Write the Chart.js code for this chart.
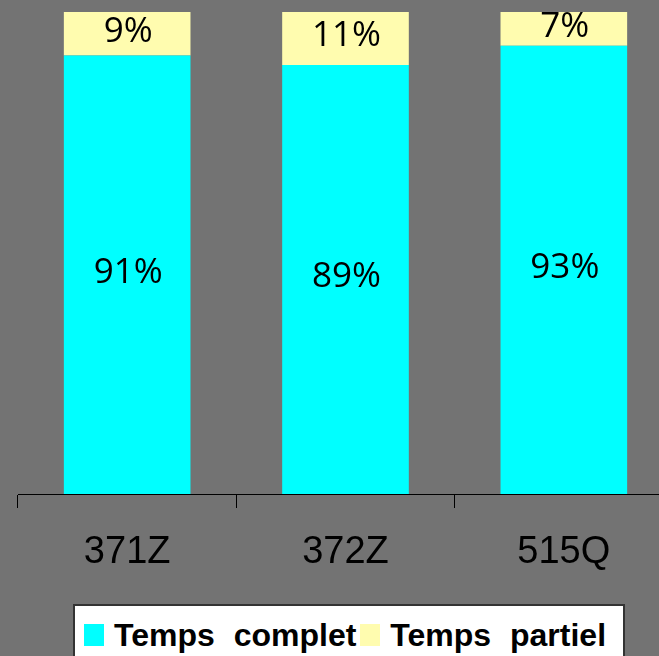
<!DOCTYPE html>
<html>
<head>
<meta charset="utf-8">
<script src="https://cdn.jsdelivr.net/npm/chart.js@4/dist/chart.umd.min.js"></script>
<style>
  html, body { margin: 0; padding: 0; background: #737373; overflow: hidden; }
  #wrap { position: absolute; left: 0; top: 0; width: 700px; height: 656px; }
  #legend {
    position: absolute; left: 73px; top: 604px; width: 552px; height: 70px;
    box-sizing: border-box; background: #fff; border: 2px solid #333;
    display: flex; align-items: flex-start; padding: 13px 0 0 9px;
  }
  .sw { width: 20px; height: 22px; margin-top: 5px; margin-right: 10px; flex: none; }
  .lbl { font: bold 32px "Liberation Sans", Arial, sans-serif; line-height: 32px;
         word-spacing: 10px; margin-right: 4px; color: #000; white-space: nowrap; }
</style>
</head>
<body>
<div id="wrap">
  <canvas id="myChart" width="700" height="656"></canvas>
  <div id="legend"></div>
</div>
<script>
'use strict';

// categories + series (percent)
let categories = ['371Z', '372Z', '515Q'];
let tempsComplet = [91, 89, 93];
let tempsPartiel = [9, 11, 7];
let seriesNames = ['Temps complet', 'Temps partiel'];

// draws the % label in the middle of every bar piece
const barLabels = {
  id: 'barLabels',
  afterDatasetsDraw(chart) {
    let ctx = chart.ctx;
    ctx.save();
    ctx.font = '500 35px "Open Sans", sans-serif';
    ctx.fillStyle = '#000';
    ctx.textAlign = 'center';
    ctx.textBaseline = 'middle';
    chart.data.datasets.forEach((ds, i) => {
      let meta = chart.getDatasetMeta(i);
      meta.data.forEach((bar, j) => {
        let p = bar.getProps(['x', 'y', 'base'], true);
        ctx.fillText(ds.data[j] + '%', p.x + 1, (p.y + p.base) / 2 - 2);
      });
    });
    ctx.restore();
  }
};

const data = {
  labels: categories,
  datasets: [
    {
      label: seriesNames[0],
      data: tempsComplet,
      backgroundColor: '#00FFFF',
      borderWidth: 0
    },
    {
      label: seriesNames[1],
      data: tempsPartiel,
      backgroundColor: '#FFFCAF',
      borderWidth: 0
    }
  ]
};

const config = {
  type: 'bar',
  data: data,
  options: {
    responsive: false,
    animation: false,
    barPercentage: 0.58,
    categoryPercentage: 1,
    layout: { padding: { left: 18, right: 27, top: 12, bottom: 0 } },
    plugins: {
      legend: { display: false },
      tooltip: { enabled: false }
    },
    scales: {
      y: {
        display: false,
        stacked: true,
        min: 0,
        max: 100
      },
      x: {
        stacked: true,
        afterFit: (scale) => { scale.height = 162; },
        grid: {
          offset: true,
          drawOnChartArea: false,
          drawTicks: true,
          tickLength: 14,
          color: '#000'
        },
        border: { display: true, color: '#000', width: 1 },
        ticks: {
          color: '#000',
          padding: 22,
          font: { family: '"Liberation Sans", Arial, sans-serif', size: 38 }
        }
      }
    }
  },
  plugins: [barLabels]
};

const myChart = new Chart(document.getElementById('myChart'), config);

// html legend from the datasets
let legend = document.getElementById('legend');
myChart.data.datasets.forEach((ds) => {
  let sw = document.createElement('span');
  sw.className = 'sw';
  sw.style.background = ds.backgroundColor;
  let lbl = document.createElement('span');
  lbl.className = 'lbl';
  lbl.textContent = ds.label;
  legend.appendChild(sw);
  legend.appendChild(lbl);
});
</script>
</body>
</html>
